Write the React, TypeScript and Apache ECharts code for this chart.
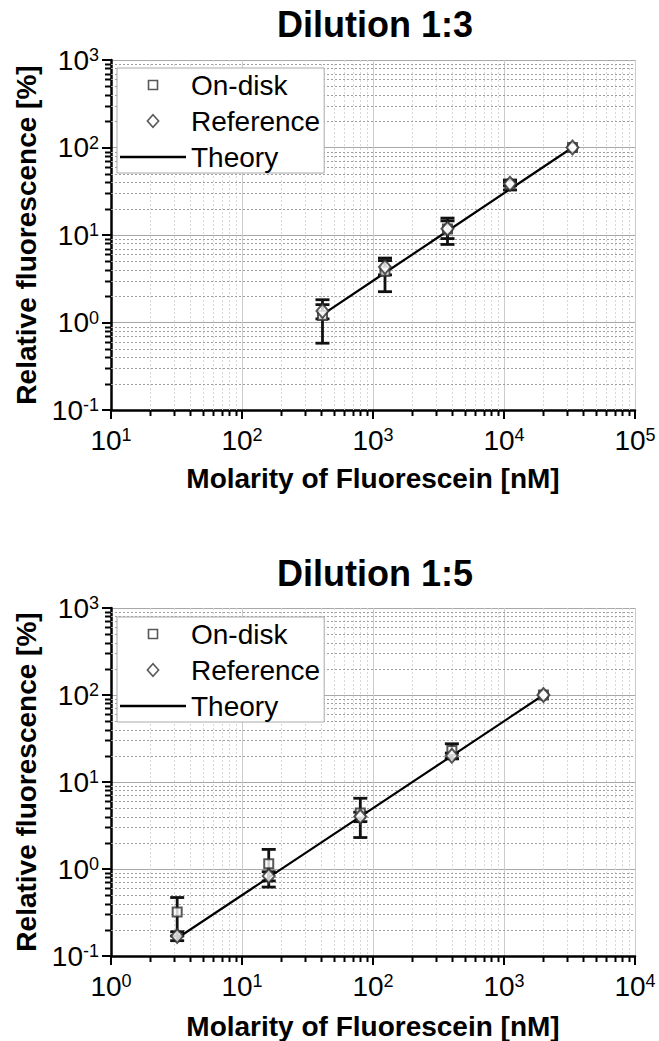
import React, { useEffect, useRef } from 'react';
import * as echarts from 'echarts';

const FONT = '"Liberation Sans", Arial, Helvetica, sans-serif';

const titles = ['Dilution 1:3', 'Dilution 1:5'];
const xAxisName = 'Molarity of Fluorescein [nM]';
const yAxisName = 'Relative fluorescence [%]';
const seriesNames = ['On-disk', 'Reference', 'Theory'];

// Dilution 1:3
const conc13 = [411.5, 1234.6, 3703.7, 11111, 33333];
const onDisk13 = [1.2, 3.85, 11.7, 37.6, 100];
const onDiskErr13 = [0.62, 1.6, 3.9, 4.9, 0];
const ref13 = [1.35, 4.3, 11.8, 38.5, 100];
const refErr13 = [0.25, 0.8, 2.7, 2.0, 0];
const theory13 = [1.23, 3.7, 11.1, 33.3, 100];

// Dilution 1:5
const conc15 = [3.2, 16, 80, 400, 2000];
const onDisk15 = [0.32, 1.15, 4.4, 23, 100];
const onDiskErr15 = [0.15, 0.53, 2.1, 4.5, 0];
const ref15 = [0.17, 0.83, 4.0, 20, 100];
const refErr15 = [0.02, 0.1, 0.5, 1.5, 0];
const theory15 = [0.16, 0.8, 4, 20, 100];

const xRange13 = [10, 100000];
const xRange15 = [1, 10000];
const yRange = [0.1, 1000];
const minorMultipliers = [2, 3, 4, 5, 6, 7, 8, 9];

// legend icons (zero-length segments fix the icon's bounding box)
const ICON_SQUARE = 'path://M0,0L0,0M14,14L14,14M2.5,2.5L11.5,2.5L11.5,11.5L2.5,11.5Z';
const ICON_DIAMOND = 'path://M0,0L0,0M14,14L14,14M7,0.8L12.6,7L7,13.2L1.4,7Z';
const ICON_LINE = 'path://M0,0L0,0M66,14L66,14M0,5.8L66,5.8L66,8.2L0,8.2Z';

const MARK = '#2e2e2e';

function minorValues(min: number, max: number) {
  const out: number[] = [];
  const k0 = Math.round(Math.log10(min));
  const k1 = Math.round(Math.log10(max));
  for (let k = k0; k < k1; k++) {
    for (const m of minorMultipliers) out.push(m * Math.pow(10, k));
  }
  return out;
}

function gridItems(xr: number[], yr: number[]) {
  const items: number[][] = [];
  minorValues(xr[0], xr[1]).forEach((v) => items.push([v, yr[0], 0]));
  minorValues(yr[0], yr[1]).forEach((v) => items.push([xr[0], v, 1]));
  return items;
}

const renderMinor = (params: any, api: any) => {
  const cs = params.coordSys;
  const kind = api.value(2);
  const p = api.coord([api.value(0), api.value(1)]);
  if (kind === 0) {
    const x = Math.round(p[0]) + 0.5;
    return {
      type: 'group',
      children: [
        { type: 'line', shape: { x1: x, y1: cs.y, x2: x, y2: cs.y + cs.height }, style: { stroke: '#d8d8d8', lineWidth: 1, lineDash: [2, 2] } },
        { type: 'line', shape: { x1: x, y1: cs.y + cs.height, x2: x, y2: cs.y + cs.height + 6 }, style: { stroke: '#000', lineWidth: 2 } },
      ],
    };
  }
  const y = Math.round(p[1]) + 0.5;
  return {
    type: 'group',
    children: [
      { type: 'line', shape: { x1: cs.x, y1: y, x2: cs.x + cs.width, y2: y }, style: { stroke: '#a0a0a0', lineWidth: 1, lineDash: [2, 2] } },
      { type: 'line', shape: { x1: cs.x - 6, y1: y, x2: cs.x, y2: y }, style: { stroke: '#000', lineWidth: 2 } },
    ],
  };
};

const renderErr = (params: any, api: any) => {
  const x = api.value(0);
  const y = api.value(1);
  const e = api.value(2);
  if (!e) return null;
  const top = api.coord([x, y + e]);
  const bot = api.coord([x, y - e]);
  const w = 7;
  const style = { stroke: '#111', lineWidth: 2.8 };
  return {
    type: 'group',
    children: [
      { type: 'line', shape: { x1: top[0], y1: top[1], x2: bot[0], y2: bot[1] }, style },
      { type: 'line', shape: { x1: top[0] - w, y1: top[1], x2: top[0] + w, y2: top[1] }, style },
      { type: 'line', shape: { x1: bot[0] - w, y1: bot[1], x2: bot[0] + w, y2: bot[1] }, style },
    ],
  };
};

const labelFormatter = (v: number) => `{b|10}{s|${Math.round(Math.log10(v))}}`;
const labelRich = {
  b: { fontSize: 28, fontFamily: FONT, color: '#000' },
  s: { fontSize: 18, fontFamily: FONT, color: '#000', verticalAlign: 'top' },
};

const nameStyle = { fontSize: 28, fontWeight: 'bold', fontFamily: FONT, color: '#000' };

function xAxisFor(gi: number, xr: number[]) {
  return {
    type: 'log',
    logBase: 10,
    gridIndex: gi,
    min: xr[0],
    max: xr[1],
    name: xAxisName,
    nameLocation: 'middle',
    nameGap: gi === 0 ? 54 : 56,
    nameTextStyle: nameStyle,
    axisLine: { show: true, onZero: false, lineStyle: { color: '#000', width: 2.5 } },
    axisTick: { show: true, length: 9, lineStyle: { color: '#000', width: 2 } },
    axisLabel: { margin: 16, formatter: labelFormatter, rich: labelRich },
    splitLine: { show: true, lineStyle: { color: '#cccccc', width: 1 } },
  };
}

function yAxisFor(gi: number) {
  return {
    type: 'log',
    logBase: 10,
    gridIndex: gi,
    min: yRange[0],
    max: yRange[1],
    name: yAxisName,
    nameLocation: 'middle',
    nameGap: 67,
    nameTextStyle: nameStyle,
    axisLine: { show: true, onZero: false, lineStyle: { color: '#000', width: 2.5 } },
    axisTick: { show: true, length: 9, lineStyle: { color: '#000', width: 2 } },
    axisLabel: { margin: 12, formatter: labelFormatter, rich: labelRich },
    splitLine: { show: true, lineStyle: { color: '#a8a8a8', width: 1 } },
  };
}

const markerStyle = { color: '#fff', borderColor: MARK, borderWidth: 2 };

function seriesFor(
  gi: number,
  xr: number[],
  conc: number[],
  onDisk: number[],
  onDiskErr: number[],
  ref: number[],
  refErr: number[],
  theory: number[]
) {
  return [
    {
      type: 'custom',
      name: 'minor-grid-' + gi,
      xAxisIndex: gi,
      yAxisIndex: gi,
      renderItem: renderMinor,
      data: gridItems(xr, yRange),
      z: 1,
      silent: true,
    },
    {
      type: 'custom',
      name: 'On-disk error ' + gi,
      xAxisIndex: gi,
      yAxisIndex: gi,
      renderItem: renderErr,
      data: conc.map((c, i) => [c, onDisk[i], onDiskErr[i]]),
      z: 3,
    },
    {
      type: 'custom',
      name: 'Reference error ' + gi,
      xAxisIndex: gi,
      yAxisIndex: gi,
      renderItem: renderErr,
      data: conc.map((c, i) => [c, ref[i], refErr[i]]),
      z: 3,
    },
    {
      type: 'line',
      name: seriesNames[2],
      xAxisIndex: gi,
      yAxisIndex: gi,
      data: conc.map((c, i) => [c, theory[i]]),
      symbol: 'none',
      lineStyle: { color: '#000', width: 2.2 },
      itemStyle: { color: '#000' },
      z: 4,
    },
    {
      type: 'scatter',
      name: seriesNames[0],
      xAxisIndex: gi,
      yAxisIndex: gi,
      data: conc.map((c, i) => [c, onDisk[i]]),
      symbol: 'rect',
      symbolSize: 9,
      itemStyle: markerStyle,
      z: 5,
    },
    {
      type: 'scatter',
      name: seriesNames[1],
      xAxisIndex: gi,
      yAxisIndex: gi,
      data: conc.map((c, i) => [c, ref[i]]),
      symbol: 'diamond',
      symbolSize: [12, 14],
      itemStyle: markerStyle,
      z: 6,
    },
  ];
}

function legendFor(top: number) {
  const iconStyle = { color: '#fff', borderColor: MARK, borderWidth: 1.6 };
  return {
    orient: 'vertical',
    left: 117,
    top,
    padding: [3, 4, 2, 3],
    itemGap: 8,
    itemWidth: 66,
    itemHeight: 14,
    symbolKeepAspect: true,
    backgroundColor: '#fff',
    borderColor: '#aaaaaa',
    borderWidth: 1,
    selectedMode: false,
    textStyle: { fontSize: 28, fontFamily: FONT, color: '#000' },
    data: [
      { name: seriesNames[0], icon: ICON_SQUARE, itemStyle: iconStyle },
      { name: seriesNames[1], icon: ICON_DIAMOND, itemStyle: iconStyle },
      { name: seriesNames[2], icon: ICON_LINE, itemStyle: { color: '#000', borderWidth: 0 } },
    ],
  };
}

export default function App() {
  const ref = useRef<HTMLDivElement>(null);
  useEffect(() => {
    document.body.style.margin = '0';
    const chart = echarts.init(ref.current!, undefined, { renderer: 'svg' });
    const option: any = {
      animation: false,
      backgroundColor: '#fff',
      textStyle: { fontFamily: FONT },
      title: [
        { text: titles[0], left: 370, top: 1, textAlign: 'center', textStyle: { fontSize: 36, fontWeight: 'bold', fontFamily: FONT, color: '#000' } },
        { text: titles[1], left: 370, top: 550, textAlign: 'center', textStyle: { fontSize: 36, fontWeight: 'bold', fontFamily: FONT, color: '#000' } },
      ],
      legend: [legendFor(68), legendFor(617)],
      grid: [
        { left: 111, top: 60, width: 524, height: 350 },
        { left: 111, top: 608, width: 524, height: 351 },
      ],
      xAxis: [xAxisFor(0, xRange13), xAxisFor(1, xRange15)],
      yAxis: [yAxisFor(0), yAxisFor(1)],
      series: [
        ...seriesFor(0, xRange13, conc13, onDisk13, onDiskErr13, ref13, refErr13, theory13),
        ...seriesFor(1, xRange15, conc15, onDisk15, onDiskErr15, ref15, refErr15, theory15),
      ],
    };
    chart.setOption(option);
    return () => chart.dispose();
  }, []);
  return <div ref={ref} style={{ width: 659, height: 1041 }} />;
}
